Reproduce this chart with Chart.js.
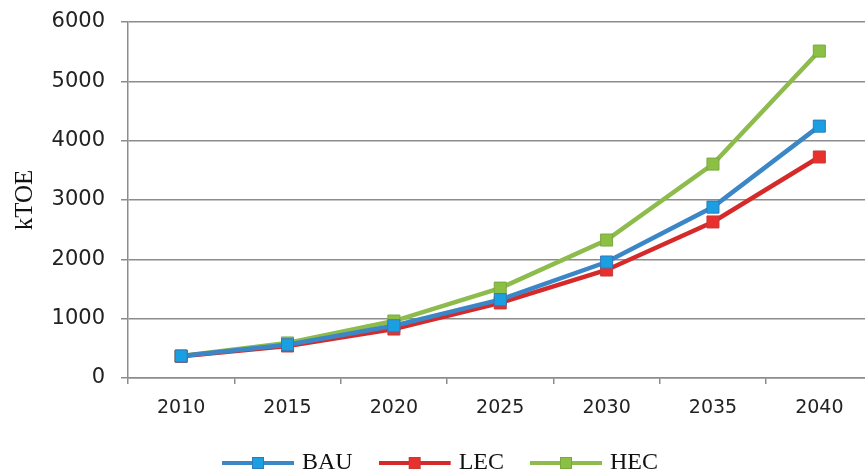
<!DOCTYPE html>
<html>
<head>
<meta charset="utf-8">
<script src="https://cdn.jsdelivr.net/npm/chart.js@4"></script>
<style>
  html, body { margin: 0; padding: 0; background: #fff; overflow: hidden; }
  #wrap { width: 882px; height: 476px; }
</style>
</head>
<body>
<div id="wrap"><canvas id="chart" width="882" height="476"></canvas></div>
<script>
const years = ["2010", "2015", "2020", "2025", "2030", "2035", "2040"]
const bau = [370, 560, 880, 1320, 1955, 2880, 4245]
const lec = [365, 540, 825, 1265, 1820, 2630, 3725]
const hec = [370, 590, 960, 1515, 2325, 3605, 5510]
const yTicks = [0, 1000, 2000, 3000, 4000, 5000, 6000]

// legend symbol: a line with a square marker in the middle
function legendIcon(line, fill, border){
    const c = document.createElement("canvas")
    c.width = 75; c.height = 14
    const ctx = c.getContext("2d")
    ctx.strokeStyle = line
    ctx.lineWidth = 4
    ctx.beginPath(); ctx.moveTo(0, 7); ctx.lineTo(72, 7); ctx.stroke()
    ctx.fillStyle = fill
    ctx.fillRect(30, 1, 12, 12)
    ctx.strokeStyle = border
    ctx.lineWidth = 1
    ctx.strokeRect(30.5, 1.5, 11, 11)
    return c
}

const series = [
    {label: "BAU", data: bau, line: "#3b86c6", fill: "#1aa0e2", border: "#3478b8"},
    {label: "LEC", data: lec, line: "#d62a2a", fill: "#e8302c", border: "#c73a3a"},
    {label: "HEC", data: hec, line: "#8dbb4c", fill: "#8cc044", border: "#7aa840"}
]

const datasets = series.map(s => ({
    label: s.label,
    data: s.data,
    borderColor: s.line,
    borderWidth: 4.5,
    backgroundColor: s.fill,
    pointStyle: "rect",
    pointRadius: 8.5,
    pointBorderColor: s.border,
    pointBorderWidth: 1,
    pointBackgroundColor: s.fill,
    tension: 0,
    fill: false
}))

new Chart(document.getElementById("chart"), {
    type: "line",
    data: {labels: years, datasets: datasets},
    options: {
        responsive: false,
        animation: false,
        layout: {padding: {top: 22, left: 12, right: 7, bottom: -9}},
        plugins: {
            tooltip: {enabled: false},
            legend: {
                position: "bottom",
                labels: {
                    usePointStyle: true,
                    pointStyleWidth: 61,
                    padding: 33,
                    color: "#111",
                    font: {family: "'Liberation Serif', 'Times New Roman', serif", size: 24},
                    generateLabels: chart => series.map((s, i) => ({
                        text: s.label,
                        pointStyle: legendIcon(s.line, s.fill, s.border),
                        fillStyle: s.fill,
                        strokeStyle: s.line,
                        lineWidth: 0,
                        hidden: false,
                        datasetIndex: i,
                        fontColor: "#111"
                    }))
                }
            }
        },
        scales: {
            x: {
                offset: true,
                grid: {offset: true, drawOnChartArea: false, drawTicks: true, tickLength: 6, color: "#8c8c8c", lineWidth: 1.5},
                border: {color: "#8c8c8c", width: 1.5},
                ticks: {color: "#222", padding: 13, font: {family: "'DejaVu Sans', Verdana, sans-serif", size: 19}},
                afterFit: scale => {
                    scale.height = 40
                    scale.paddingLeft = 0
                    scale.paddingRight = 0
                }
            },
            y: {
                min: 0,
                max: 6000,
                afterBuildTicks: scale => { scale.ticks = yTicks.map(v => ({value: v})) },
                grid: {color: "#8c8c8c", lineWidth: 1.5, tickLength: 7},
                border: {color: "#8c8c8c", width: 1.5},
                ticks: {
                    color: "#222",
                    padding: 16,
                    font: {family: "'DejaVu Sans', Verdana, sans-serif", size: 21},
                    callback: v => String(v)
                },
                title: {
                    display: true,
                    text: "kTOE",
                    color: "#111",
                    padding: {top: -2, bottom: 0},
                    font: {family: "'Liberation Serif', 'Times New Roman', serif", size: 25}
                },
                afterFit: scale => {
                    scale.width = 116
                    scale.paddingTop = 0
                    scale.paddingBottom = 0
                }
            }
        }
    }
})
</script>
</body>
</html>
